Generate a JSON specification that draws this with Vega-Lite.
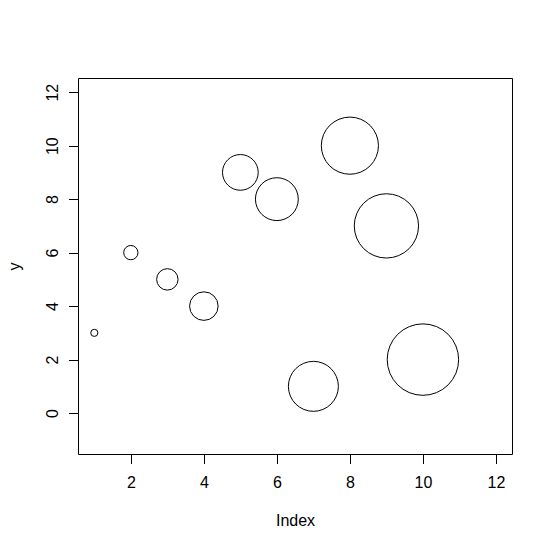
{
  "$schema": "https://vega.github.io/schema/vega-lite/v6.json",
  "width": 434,
  "height": 376,
  "autosize": {"type": "none"},
  "padding": {"left": 78, "top": 78, "right": 41, "bottom": 98},
  "background": "white",
  "config": {
    "font": "Liberation Sans",
    "view": {"stroke": "black", "strokeWidth": 1, "fill": "white"},
    "axis": {
      "grid": false,
      "domain": false,
      "ticks": true,
      "tickColor": "black",
      "tickWidth": 1,
      "tickSize": 9.5,
      "labelFont": "Liberation Sans",
      "labelFontSize": 16,
      "labelColor": "black",
      "titleFont": "Liberation Sans",
      "titleFontSize": 16,
      "titleFontWeight": "normal",
      "titleColor": "black"
    }
  },
  "data": {
    "values": [
      {"Index": 1, "y": 3, "r": 1},
      {"Index": 2, "y": 6, "r": 2},
      {"Index": 3, "y": 5, "r": 3},
      {"Index": 4, "y": 4, "r": 4},
      {"Index": 5, "y": 9, "r": 5},
      {"Index": 6, "y": 8, "r": 6},
      {"Index": 7, "y": 1, "r": 7},
      {"Index": 8, "y": 10, "r": 8},
      {"Index": 9, "y": 7, "r": 9},
      {"Index": 10, "y": 2, "r": 10}
    ]
  },
  "mark": {
    "type": "point",
    "shape": "circle",
    "filled": false,
    "stroke": "black",
    "strokeWidth": 1,
    "opacity": 1
  },
  "encoding": {
    "x": {
      "field": "Index",
      "type": "quantitative",
      "scale": {"domain": [0.553, 12.44], "nice": false, "zero": false},
      "axis": {
        "title": "Index",
        "values": [2, 4, 6, 8, 10, 12],
        "labelBaseline": "top",
        "labelPadding": 11,
        "titleBaseline": "top",
        "titlePadding": 22
      }
    },
    "y": {
      "field": "y",
      "type": "quantitative",
      "scale": {"domain": [-1.53, 12.53], "nice": false, "zero": false},
      "axis": {
        "title": "y",
        "values": [0, 2, 4, 6, 8, 10, 12],
        "labelAngle": -90,
        "labelAlign": "center",
        "labelBaseline": "alphabetic",
        "labelPadding": 11,
        "titlePadding": 22
      }
    },
    "size": {
      "field": "r",
      "type": "quantitative",
      "scale": {"type": "pow", "exponent": 2, "domain": [0, 10], "range": [0, 5100]},
      "legend": null
    }
  }
}
